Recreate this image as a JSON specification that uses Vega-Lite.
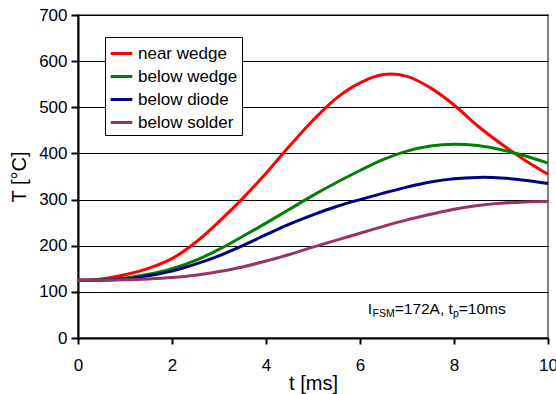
{
  "$schema": "https://vega.github.io/schema/vega-lite/v6.json",
  "width": 470,
  "height": 323,
  "autosize": "none",
  "padding": {"left": 78, "top": 15, "right": 8, "bottom": 56},
  "background": "white",
  "config": {
    "font": "Liberation Sans",
    "view": {"stroke": "#808080", "strokeWidth": 2},
    "axis": {
      "labelFont": "Liberation Sans",
      "labelFontSize": 17,
      "labelColor": "black",
      "titleFont": "Liberation Sans",
      "titleFontSize": 20,
      "titleFontWeight": "normal",
      "titleColor": "black",
      "domainColor": "black",
      "domainWidth": 2,
      "tickColor": "black",
      "tickWidth": 2
    },
    "legend": {
      "orient": "none",
      "legendX": 27,
      "legendY": 22,
      "fillColor": "white",
      "strokeColor": "black",
      "strokeWidth": 1,
      "padding": 4,
      "symbolType": "stroke",
      "symbolSize": 470,
      "symbolStrokeWidth": 3,
      "labelFont": "Liberation Sans",
      "labelFontSize": 17,
      "labelColor": "black",
      "labelOffset": 4,
      "labelLimit": 200,
      "rowPadding": 2
    }
  },
  "datasets": {
    "temps": [
      {"t": 0, "T": 125, "s": "near wedge"}, {"t": 0.5, "T": 128, "s": "near wedge"}, {"t": 1, "T": 137, "s": "near wedge"},
      {"t": 1.5, "T": 151, "s": "near wedge"}, {"t": 2, "T": 172, "s": "near wedge"}, {"t": 2.5, "T": 207, "s": "near wedge"},
      {"t": 3, "T": 252, "s": "near wedge"}, {"t": 3.5, "T": 302, "s": "near wedge"}, {"t": 4, "T": 357, "s": "near wedge"},
      {"t": 4.5, "T": 416, "s": "near wedge"}, {"t": 5, "T": 472, "s": "near wedge"}, {"t": 5.5, "T": 520, "s": "near wedge"},
      {"t": 6, "T": 553, "s": "near wedge"}, {"t": 6.5, "T": 571, "s": "near wedge"}, {"t": 7, "T": 567, "s": "near wedge"},
      {"t": 7.5, "T": 542, "s": "near wedge"}, {"t": 8, "T": 505, "s": "near wedge"}, {"t": 8.5, "T": 460, "s": "near wedge"},
      {"t": 9, "T": 421, "s": "near wedge"}, {"t": 9.5, "T": 386, "s": "near wedge"}, {"t": 10, "T": 355, "s": "near wedge"},

      {"t": 0, "T": 125, "s": "below wedge"}, {"t": 0.5, "T": 126, "s": "below wedge"}, {"t": 1, "T": 130, "s": "below wedge"},
      {"t": 1.5, "T": 138, "s": "below wedge"}, {"t": 2, "T": 150, "s": "below wedge"}, {"t": 2.5, "T": 168, "s": "below wedge"},
      {"t": 3, "T": 192, "s": "below wedge"}, {"t": 3.5, "T": 220, "s": "below wedge"}, {"t": 4, "T": 249, "s": "below wedge"},
      {"t": 4.5, "T": 279, "s": "below wedge"}, {"t": 5, "T": 309, "s": "below wedge"}, {"t": 5.5, "T": 337, "s": "below wedge"},
      {"t": 6, "T": 363, "s": "below wedge"}, {"t": 6.5, "T": 387, "s": "below wedge"}, {"t": 7, "T": 405, "s": "below wedge"},
      {"t": 7.5, "T": 416, "s": "below wedge"}, {"t": 8, "T": 420, "s": "below wedge"}, {"t": 8.5, "T": 417, "s": "below wedge"},
      {"t": 9, "T": 408, "s": "below wedge"}, {"t": 9.5, "T": 395, "s": "below wedge"}, {"t": 10, "T": 379, "s": "below wedge"},

      {"t": 0, "T": 125, "s": "below diode"}, {"t": 0.5, "T": 125, "s": "below diode"}, {"t": 1, "T": 128, "s": "below diode"},
      {"t": 1.5, "T": 135, "s": "below diode"}, {"t": 2, "T": 145, "s": "below diode"}, {"t": 2.5, "T": 160, "s": "below diode"},
      {"t": 3, "T": 178, "s": "below diode"}, {"t": 3.5, "T": 200, "s": "below diode"}, {"t": 4, "T": 224, "s": "below diode"},
      {"t": 4.5, "T": 247, "s": "below diode"}, {"t": 5, "T": 267, "s": "below diode"}, {"t": 5.5, "T": 285, "s": "below diode"},
      {"t": 6, "T": 300, "s": "below diode"}, {"t": 6.5, "T": 314, "s": "below diode"}, {"t": 7, "T": 327, "s": "below diode"},
      {"t": 7.5, "T": 338, "s": "below diode"}, {"t": 8, "T": 345, "s": "below diode"}, {"t": 8.5, "T": 348, "s": "below diode"},
      {"t": 9, "T": 347, "s": "below diode"}, {"t": 9.5, "T": 342, "s": "below diode"}, {"t": 10, "T": 335, "s": "below diode"},

      {"t": 0, "T": 125, "s": "below solder"}, {"t": 0.5, "T": 125, "s": "below solder"}, {"t": 1, "T": 126, "s": "below solder"},
      {"t": 1.5, "T": 128, "s": "below solder"}, {"t": 2, "T": 131, "s": "below solder"}, {"t": 2.5, "T": 136, "s": "below solder"},
      {"t": 3, "T": 144, "s": "below solder"}, {"t": 3.5, "T": 154, "s": "below solder"}, {"t": 4, "T": 167, "s": "below solder"},
      {"t": 4.5, "T": 181, "s": "below solder"}, {"t": 5, "T": 197, "s": "below solder"}, {"t": 5.5, "T": 212, "s": "below solder"},
      {"t": 6, "T": 227, "s": "below solder"}, {"t": 6.5, "T": 242, "s": "below solder"}, {"t": 7, "T": 256, "s": "below solder"},
      {"t": 7.5, "T": 268, "s": "below solder"}, {"t": 8, "T": 279, "s": "below solder"}, {"t": 8.5, "T": 287, "s": "below solder"},
      {"t": 9, "T": 292, "s": "below solder"}, {"t": 9.5, "T": 295, "s": "below solder"}, {"t": 10, "T": 296, "s": "below solder"}
    ]
  },
  "layer": [
    {
      "data": {"name": "temps"},
      "mark": {"type": "line", "strokeWidth": 3, "interpolate": "catmull-rom"},
      "encoding": {
        "x": {
          "field": "t",
          "type": "quantitative",
          "scale": {"domain": [0, 10], "nice": false, "zero": false},
          "axis": {
            "values": [0, 2, 4, 6, 8, 10],
            "grid": false,
            "tickSize": 6,
            "labelBaseline": "alphabetic",
            "labelPadding": 26,
            "labelFlush": false,
            "title": "t [ms]",
            "titleBaseline": "alphabetic",
            "titleY": 51
          }
        },
        "y": {
          "field": "T",
          "type": "quantitative",
          "scale": {"domain": [0, 700], "nice": false},
          "axis": {
            "values": [0, 100, 200, 300, 400, 500, 600, 700],
            "grid": true,
            "gridColor": "black",
            "gridWidth": 1,
            "tickSize": 7,
            "labelPadding": 4,
            "title": "T [°C]",
            "titleAngle": -90,
            "titleAlign": "center",
            "titleBaseline": "alphabetic",
            "titleX": -53,
            "titleY": 161.5
          }
        },
        "color": {
          "field": "s",
          "type": "nominal",
          "sort": null,
          "scale": {
            "domain": ["near wedge", "below wedge", "below diode", "below solder"],
            "range": ["#FF0000", "#008000", "#000080", "#993366"]
          },
          "legend": {"title": null}
        }
      }
    },
    {
      "data": {"values": [{}]},
      "mark": {"type": "text", "align": "left", "baseline": "alphabetic", "font": "Liberation Sans", "fontSize": 15.5, "color": "black"},
      "encoding": {"x": {"datum": 6.164}, "y": {"datum": 53}, "text": {"value": "I"}}
    },
    {
      "data": {"values": [{}]},
      "mark": {"type": "text", "align": "left", "baseline": "alphabetic", "font": "Liberation Sans", "fontSize": 10.5, "color": "black", "dx": 4.8, "dy": 3.5},
      "encoding": {"x": {"datum": 6.164}, "y": {"datum": 53}, "text": {"value": "FSM"}}
    },
    {
      "data": {"values": [{}]},
      "mark": {"type": "text", "align": "left", "baseline": "alphabetic", "font": "Liberation Sans", "fontSize": 15.5, "color": "black", "dx": 27},
      "encoding": {"x": {"datum": 6.164}, "y": {"datum": 53}, "text": {"value": "=172A, t"}}
    },
    {
      "data": {"values": [{}]},
      "mark": {"type": "text", "align": "left", "baseline": "alphabetic", "font": "Liberation Sans", "fontSize": 10.5, "color": "black", "dx": 85.2, "dy": 3.5},
      "encoding": {"x": {"datum": 6.164}, "y": {"datum": 53}, "text": {"value": "p"}}
    },
    {
      "data": {"values": [{}]},
      "mark": {"type": "text", "align": "left", "baseline": "alphabetic", "font": "Liberation Sans", "fontSize": 15.5, "color": "black", "dx": 91},
      "encoding": {"x": {"datum": 6.164}, "y": {"datum": 53}, "text": {"value": "=10ms"}}
    }
  ]
}
